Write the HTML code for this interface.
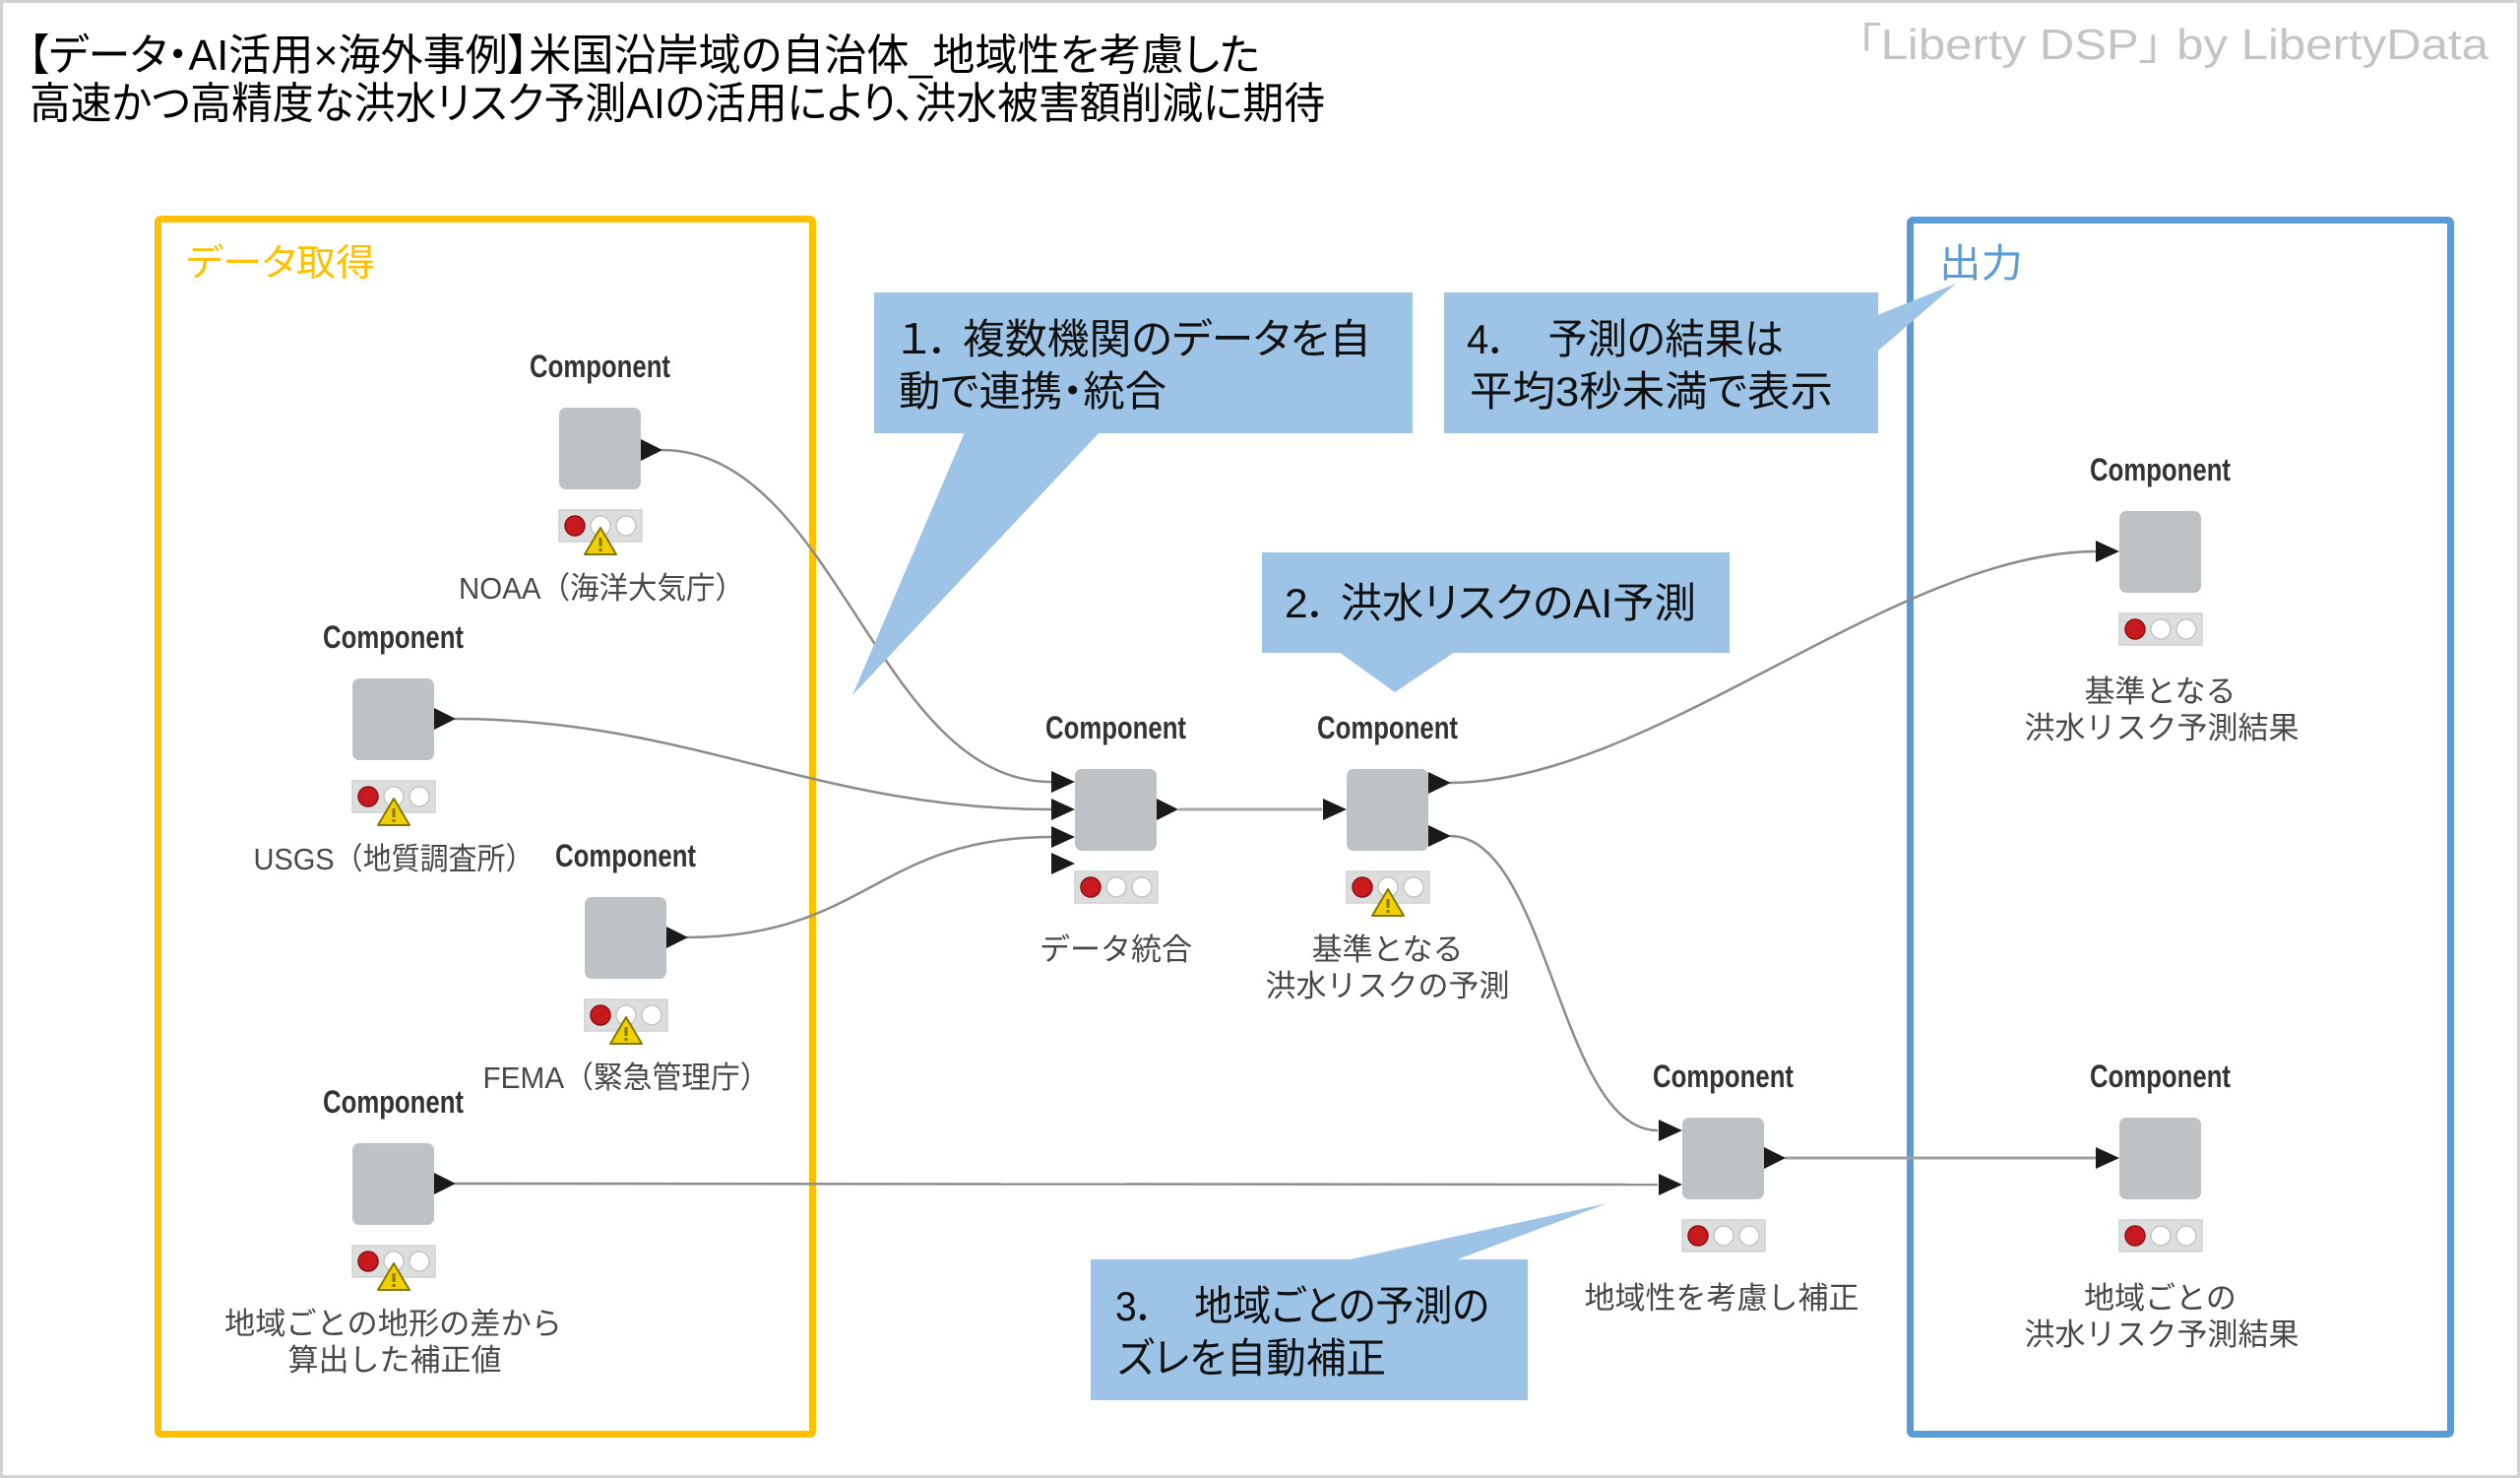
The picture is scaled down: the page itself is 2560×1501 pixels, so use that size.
<!DOCTYPE html>
<html>
<head>
<meta charset="utf-8">
<style>
html,body{margin:0;padding:0;background:#fff;}
body{width:2560px;height:1501px;overflow:hidden;}
svg{display:block;}
.jp{font-family:"Liberation Sans","Noto Sans CJK JP",sans-serif;font-feature-settings:"palt";}
.cmp{font-family:"Liberation Sans Narrow","Liberation Sans",sans-serif;font-weight:bold;font-size:32px;fill:#333;}
.lbl{font-family:"Liberation Sans Narrow","Liberation Sans","Noto Sans CJK JP",sans-serif;font-size:31px;fill:#484848;}
</style>
</head>
<body>
<svg width="2560" height="1501" viewBox="0 0 2560 1501" xmlns="http://www.w3.org/2000/svg">
<defs>
  <g id="status">
    <rect x="0" y="0" width="84" height="32" fill="#dcdede" stroke="#cfd1d1" stroke-width="1.5"/>
    <circle cx="16" cy="16" r="10" fill="#c8191f" stroke="#8c1015" stroke-width="1.5"/>
    <circle cx="42" cy="16" r="10" fill="#ffffff" stroke="#c4c6c6" stroke-width="1.5"/>
    <circle cx="68" cy="16" r="10" fill="#ffffff" stroke="#c4c6c6" stroke-width="1.5"/>
  </g>
  <g id="warn">
    <polygon points="42,18 26,45 58,45" fill="#f0d000" stroke="#857600" stroke-width="2" stroke-linejoin="round"/>
    <rect x="40.5" y="28" width="3" height="9" fill="#857600"/>
    <rect x="40.5" y="39" width="3" height="3" fill="#857600"/>
  </g>
</defs>

<rect x="0" y="0" width="2560" height="1501" fill="#ffffff"/>
<rect x="1.5" y="1.5" width="2557" height="1498" fill="none" stroke="#d2d2d2" stroke-width="3"/>

<!-- Title -->
<text class="jp" x="28" y="71" font-size="44" fill="#000" textLength="1252" lengthAdjust="spacingAndGlyphs">【データ・AI活用×海外事例】米国沿岸域の自治体_地域性を考慮した</text>
<text class="jp" x="30" y="120" font-size="44" fill="#000" textLength="1316" lengthAdjust="spacingAndGlyphs">高速かつ高精度な洪水リスク予測AIの活用により、洪水被害額削減に期待</text>

<!-- Watermark -->
<text class="jp" x="1886" y="60" font-size="44" fill="#c4c4c4" textLength="642" lengthAdjust="spacingAndGlyphs">「Liberty DSP」  by LibertyData</text>

<!-- Group boxes -->
<rect x="160.5" y="222.5" width="665" height="1234" rx="3" fill="none" stroke="#ffc000" stroke-width="7"/>
<text class="jp" x="189" y="280" font-size="38" fill="#ffc000" textLength="192" lengthAdjust="spacingAndGlyphs">データ取得</text>

<rect x="1940.5" y="223.5" width="549" height="1233" rx="3" fill="none" stroke="#5b9bd5" stroke-width="7"/>
<text class="jp" x="1970" y="281" font-size="40" fill="#5b9bd5" textLength="85" lengthAdjust="spacingAndGlyphs">出力</text>

<!-- Connectors -->
<g fill="none" stroke="#8c8c8c" stroke-width="2.5">
  <path d="M 672 457 C 849 457, 891 794, 1068 794"/>
  <path d="M 462 730 C 700 730, 830 822, 1068 822"/>
  <path d="M 697 952 C 880 952, 890 850, 1068 850"/>
  <path d="M 462 1202 L 1684 1203"/>
  <path d="M 1197 822 L 1343 822" stroke="#a8a8a8" stroke-width="3"/>
  <path d="M 1473 795 C 1678 795, 1925 560, 2130 560"/>
  <path d="M 1473 849 C 1573 849, 1584 1148, 1684 1148"/>
  <path d="M 1813 1176 L 2130 1176" stroke="#a0a0a0" stroke-width="3"/>
</g>

<!-- Node A: NOAA -->
<text class="cmp" x="609.5" y="383" text-anchor="middle" textLength="143" lengthAdjust="spacingAndGlyphs">Component</text>
<rect x="568" y="414" width="83" height="83" rx="7" fill="#bfc2c5"/>
<polygon points="651,446 673,457 651,468" fill="#1a1a1a"/>
<use href="#status" x="568" y="518"/>
<use href="#warn" x="568" y="518"/>
<text class="lbl" x="611" y="608" text-anchor="middle" textLength="290" lengthAdjust="spacingAndGlyphs">NOAA（海洋大気庁）</text>

<!-- Node B: USGS -->
<text class="cmp" x="399.5" y="658" text-anchor="middle" textLength="143" lengthAdjust="spacingAndGlyphs">Component</text>
<rect x="358" y="689" width="83" height="83" rx="7" fill="#bfc2c5"/>
<polygon points="441,719 463,730 441,741" fill="#1a1a1a"/>
<use href="#status" x="358" y="793"/>
<use href="#warn" x="358" y="793"/>
<text class="lbl" x="400" y="883" text-anchor="middle" textLength="285" lengthAdjust="spacingAndGlyphs">USGS（地質調査所）</text>

<!-- Node C: FEMA -->
<text class="cmp" x="635.5" y="880" text-anchor="middle" textLength="143" lengthAdjust="spacingAndGlyphs">Component</text>
<rect x="594" y="911" width="83" height="83" rx="7" fill="#bfc2c5"/>
<polygon points="677,941 699,952 677,963" fill="#1a1a1a"/>
<use href="#status" x="594" y="1015"/>
<use href="#warn" x="594" y="1015"/>
<text class="lbl" x="636" y="1105" text-anchor="middle" textLength="291" lengthAdjust="spacingAndGlyphs">FEMA（緊急管理庁）</text>

<!-- Node D: 地域ごと -->
<text class="cmp" x="399.5" y="1130" text-anchor="middle" textLength="143" lengthAdjust="spacingAndGlyphs">Component</text>
<rect x="358" y="1161" width="83" height="83" rx="7" fill="#bfc2c5"/>
<polygon points="441,1191 463,1202 441,1213" fill="#1a1a1a"/>
<use href="#status" x="358" y="1265"/>
<use href="#warn" x="358" y="1265"/>
<text class="lbl" x="399.5" y="1355" text-anchor="middle" textLength="343" lengthAdjust="spacingAndGlyphs">地域ごとの地形の差から</text>
<text class="lbl" x="401" y="1392" text-anchor="middle">算出した補正値</text>

<!-- Node E: データ統合 -->
<text class="cmp" x="1133.5" y="750" text-anchor="middle" textLength="143" lengthAdjust="spacingAndGlyphs">Component</text>
<rect x="1092" y="781" width="83" height="83" rx="7" fill="#bfc2c5"/>
<polygon points="1068,783 1092,794 1068,805" fill="#1a1a1a"/>
<polygon points="1068,811 1092,822 1068,833" fill="#1a1a1a"/>
<polygon points="1068,839 1092,850 1068,861" fill="#1a1a1a"/>
<polygon points="1068,866 1092,877 1068,888" fill="#1a1a1a"/>
<polygon points="1175,811 1197,822 1175,833" fill="#1a1a1a"/>
<use href="#status" x="1092" y="885"/>
<text class="lbl" x="1133.5" y="975" text-anchor="middle">データ統合</text>

<!-- Node F: 基準 -->
<text class="cmp" x="1409.5" y="750" text-anchor="middle" textLength="143" lengthAdjust="spacingAndGlyphs">Component</text>
<rect x="1368" y="781" width="83" height="83" rx="7" fill="#bfc2c5"/>
<polygon points="1344,811 1368,822 1344,833" fill="#1a1a1a"/>
<polygon points="1451,784 1474,795 1451,806" fill="#1a1a1a"/>
<polygon points="1451,838 1474,849 1451,860" fill="#1a1a1a"/>
<use href="#status" x="1368" y="885"/>
<use href="#warn" x="1368" y="885"/>
<text class="lbl" x="1409.5" y="975" text-anchor="middle">基準となる</text>
<text class="lbl" x="1409.5" y="1012" text-anchor="middle">洪水リスクの予測</text>

<!-- Node G: 地域性 -->
<text class="cmp" x="1750.5" y="1104" text-anchor="middle" textLength="143" lengthAdjust="spacingAndGlyphs">Component</text>
<rect x="1709" y="1135" width="83" height="83" rx="7" fill="#bfc2c5"/>
<polygon points="1685,1137 1709,1148 1685,1159" fill="#1a1a1a"/>
<polygon points="1685,1192 1709,1203 1685,1214" fill="#1a1a1a"/>
<polygon points="1792,1165 1814,1176 1792,1187" fill="#1a1a1a"/>
<use href="#status" x="1709" y="1239"/>
<text class="lbl" x="1749" y="1329" text-anchor="middle">地域性を考慮し補正</text>

<!-- Node H: output top -->
<text class="cmp" x="2194.5" y="488" text-anchor="middle" textLength="143" lengthAdjust="spacingAndGlyphs">Component</text>
<rect x="2153" y="519" width="83" height="83" rx="7" fill="#bfc2c5"/>
<polygon points="2129,549 2153,560 2129,571" fill="#1a1a1a"/>
<use href="#status" x="2153" y="623"/>
<text class="lbl" x="2194.5" y="713" text-anchor="middle">基準となる</text>
<text class="lbl" x="2196" y="750" text-anchor="middle">洪水リスク予測結果</text>

<!-- Node I: output bottom -->
<text class="cmp" x="2194.5" y="1104" text-anchor="middle" textLength="143" lengthAdjust="spacingAndGlyphs">Component</text>
<rect x="2153" y="1135" width="83" height="83" rx="7" fill="#bfc2c5"/>
<polygon points="2129,1165 2153,1176 2129,1187" fill="#1a1a1a"/>
<use href="#status" x="2153" y="1239"/>
<text class="lbl" x="2194.5" y="1329" text-anchor="middle">地域ごとの</text>
<text class="lbl" x="2196" y="1366" text-anchor="middle">洪水リスク予測結果</text>

<!-- Callouts -->
<g fill="#9dc3e6">
  <rect x="888" y="297" width="547" height="143"/>
  <polygon points="980,439 866,706 1117,439"/>
  <rect x="1467" y="297" width="441" height="143"/>
  <polygon points="1907,320 1987,288 1907,357"/>
  <rect x="1282" y="561" width="475" height="102"/>
  <polygon points="1360,662 1417,703 1478,662"/>
  <rect x="1108" y="1279" width="444" height="143"/>
  <polygon points="1367,1280 1633,1222 1478,1280"/>
</g>
<g class="jp" font-size="42" fill="#111">
  <text x="912" y="359" textLength="481" lengthAdjust="spacingAndGlyphs">１．  複数機関のデータを自</text>
  <text x="913" y="412" textLength="272" lengthAdjust="spacingAndGlyphs">動で連携・統合</text>
  <text x="1490" y="359" textLength="322" lengthAdjust="spacingAndGlyphs">4．　予測の結果は</text>
  <text x="1493" y="412" textLength="369" lengthAdjust="spacingAndGlyphs">平均3秒未満で表示</text>
  <text x="1305" y="627" textLength="418" lengthAdjust="spacingAndGlyphs">2． 洪水リスクのAI予測</text>
  <text x="1133" y="1341" textLength="380" lengthAdjust="spacingAndGlyphs">3．　地域ごとの予測の</text>
  <text x="1135" y="1394" textLength="273" lengthAdjust="spacingAndGlyphs">ズレを自動補正</text>
</g>
</svg>
</body>
</html>
